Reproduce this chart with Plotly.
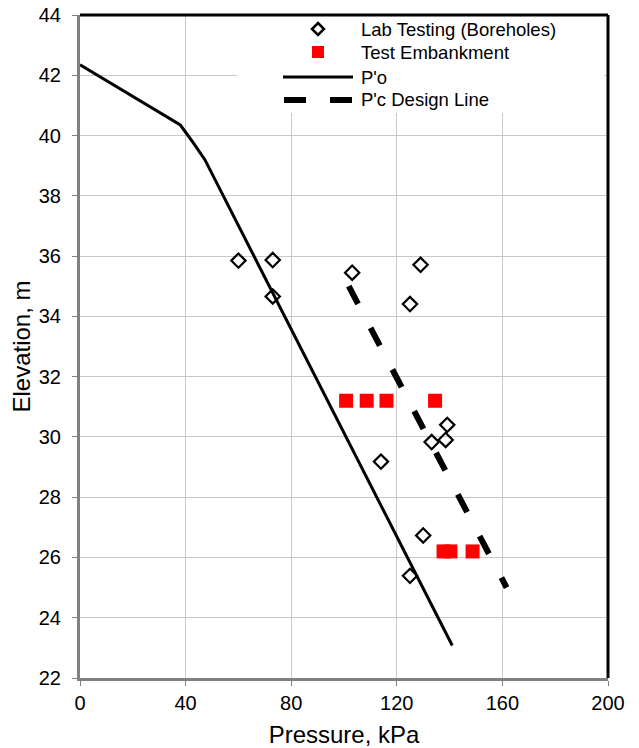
import plotly.graph_objects as go

# Lab testing (boreholes)
lab_p = [60.0, 73.0, 73.0, 103.1, 129.0, 125.0, 139.1, 138.5, 133.2, 114.0, 130.0, 125.0]
lab_z = [35.85, 35.87, 34.66, 35.45, 35.71, 34.41, 30.40, 29.90, 29.83, 29.18, 26.73, 25.39]

# Test embankment
emb_p = [100.8, 108.6, 116.1, 134.5, 137.7, 140.3, 148.7]
emb_z = [31.2, 31.2, 31.2, 31.2, 26.2, 26.2, 26.2]

# P'o
po_p = [0.0, 38.0, 43.0, 47.3, 141.0]
po_z = [42.35, 40.35, 39.75, 39.2, 23.08]

# P'c design line
pc_p = [101.8, 161.6]
pc_z = [35.0, 25.0]

x_ticks = [0, 40, 80, 120, 160, 200]
y_ticks = list(range(22, 45, 2))

legend_labels = ["Lab Testing (Boreholes)", "Test Embankment", "P'o", "P'c Design Line"]

FONT = "Liberation Sans, Arial, sans-serif"
W, H = 639, 748
# plot area in window pixels: x 80..608, y 15..678
PL, PR, PT, PB = 80, 608, 15, 678
L, T = PL, PT
R, B = W - PR, H - PB
PW, PH = PR - PL, PB - PT


def px(xpix):
    return (xpix - PL) / PW


def py(ypix):
    return 1 - (ypix - PT) / PH


fig = go.Figure()
fig.add_trace(go.Scatter(x=lab_p, y=lab_z, mode="markers", name=legend_labels[0],
                         marker=dict(symbol="diamond-open", size=11, color="black",
                                     line=dict(width=2.2, color="black"))))
fig.add_trace(go.Scatter(x=emb_p, y=emb_z, mode="markers", name=legend_labels[1],
                         marker=dict(symbol="square", size=14, color="#ff0000",
                                     line=dict(width=0))))
fig.add_trace(go.Scatter(x=po_p, y=po_z, mode="lines", name=legend_labels[2],
                         line=dict(color="black", width=3)))
fig.add_trace(go.Scatter(x=pc_p, y=pc_z, mode="lines", name=legend_labels[3],
                         line=dict(color="black", width=6, dash="20px,27px")))

# custom legend (box, keys, labels)
row_y = [29, 52, 77, 100]
key_x = 318
shapes = [
    dict(type="rect", xref="paper", yref="paper", x0=px(237), x1=px(604),
         y0=py(113), y1=py(15), fillcolor="white", line=dict(width=0), layer="above"),
]
d = 6
shapes.append(dict(type="path", xref="paper", yref="paper",
                   path="M {a},{b} L {c},{e} L {a},{f} L {g},{e} Z".format(
                       a=px(key_x), b=py(row_y[0] - d), c=px(key_x + d), e=py(row_y[0]),
                       f=py(row_y[0] + d), g=px(key_x - d)),
                   line=dict(color="black", width=2.5), fillcolor="white", layer="above"))
s = 6
shapes.append(dict(type="rect", xref="paper", yref="paper",
                   x0=px(key_x - s), x1=px(key_x + s), y0=py(row_y[1] + s), y1=py(row_y[1] - s),
                   fillcolor="#ff0000", line=dict(width=0), layer="above"))
shapes.append(dict(type="line", xref="paper", yref="paper", x0=px(283), x1=px(353),
                   y0=py(row_y[2]), y1=py(row_y[2]), line=dict(color="black", width=3),
                   layer="above"))
for a, b in [(284, 306), (330, 352)]:
    shapes.append(dict(type="line", xref="paper", yref="paper", x0=px(a), x1=px(b),
                       y0=py(row_y[3]), y1=py(row_y[3]), line=dict(color="black", width=6),
                       layer="above"))
shapes += [
    dict(type="line", xref="paper", yref="paper", x0=0, x1=1, y0=1, y1=1,
         line=dict(color="black", width=3)),
    dict(type="line", xref="paper", yref="paper", x0=1, x1=1, y0=0, y1=1,
         line=dict(color="black", width=3)),
]

annotations = [
    dict(xref="paper", yref="paper", x=px(359), y=py(yy), text=lbl, showarrow=False,
         xanchor="left", yanchor="middle", font=dict(size=18.5, family=FONT, color="black"))
    for yy, lbl in zip(row_y, legend_labels)
]

fig.update_layout(
    width=W, height=H,
    margin=dict(l=L, r=R, t=T, b=B, autoexpand=False),
    paper_bgcolor="white", plot_bgcolor="white",
    font=dict(family=FONT, size=20, color="black"),
    showlegend=False,
    xaxis=dict(range=[0, 200], tickvals=x_ticks, ticktext=[str(v) for v in x_ticks],
               showgrid=True, gridcolor="#c8c8c8", gridwidth=1,
               showline=True, linecolor="#808080", linewidth=3, mirror=False,
               ticks="outside", ticklen=5, tickcolor="#808080", tickwidth=1,
               zeroline=False, ticklabelstandoff=0, automargin=False,
               ticklabeloverflow="allow",
               title=dict(text="Pressure, kPa", standoff=22)),
    yaxis=dict(range=[22, 44], tickvals=y_ticks, ticktext=[str(v) for v in y_ticks],
               showgrid=True, gridcolor="#c8c8c8", gridwidth=1,
               showline=True, linecolor="#808080", linewidth=3, mirror=False,
               ticks="outside", ticklen=5, tickcolor="#808080", tickwidth=1,
               zeroline=False, ticklabelstandoff=7, automargin=False,
               ticklabeloverflow="allow",
               title=dict(text="Elevation, m", standoff=2)),
    shapes=shapes,
    annotations=annotations,
)

fig.write_html("out.html",
               config={"displayModeBar": False},
               post_script="document.body.style.margin='0';document.body.style.overflow='hidden';")
